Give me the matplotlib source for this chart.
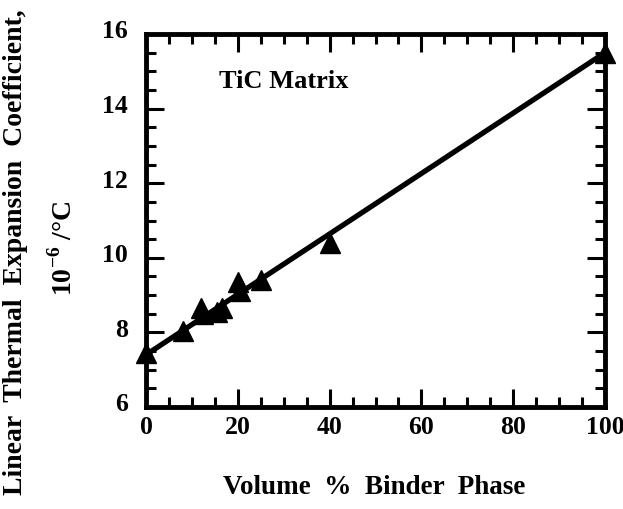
import numpy as np
import matplotlib.pyplot as plt
import matplotlib.transforms as mtransforms
from matplotlib.ticker import MultipleLocator

# data
binder_pct = [0, 8, 12, 12.5, 15.5, 16.5, 20, 20.5, 25, 40, 100]
cte = [7.45, 8.05, 8.65, 8.5, 8.55, 8.65, 9.35, 9.12, 9.4, 10.4, 15.5]
fit_x = [0, 100]
fit_y = [7.4, 15.5]

plt.rcParams['font.family'] = ['Liberation Serif', 'DejaVu Serif']
plt.rcParams['font.weight'] = 'bold'
plt.rcParams['mathtext.fontset'] = 'custom'
plt.rcParams['mathtext.rm'] = 'Liberation Serif:bold'

fig = plt.figure(figsize=(6.23, 5.10), dpi=100)
ax = fig.add_axes([146 / 623, 1 - 408 / 510, (605 - 146) / 623, (408 - 35) / 510])

ax.plot(fit_x, fit_y, color='black', lw=3.8, solid_capstyle='butt', zorder=2)
ax.plot(binder_pct, cte, ls='none', marker='^', ms=14, color='black', zorder=3,
        clip_on=False)

ax.set_xlim(0, 100)
ax.set_ylim(6, 16)
ax.xaxis.set_major_locator(MultipleLocator(20))
ax.xaxis.set_minor_locator(MultipleLocator(5))
ax.yaxis.set_major_locator(MultipleLocator(2))
ax.yaxis.set_minor_locator(MultipleLocator(0.5))
ax.tick_params(which='both', direction='in', top=True, right=True, width=2.2,
               labelsize=18.5)
ax.tick_params(axis='x', which='major', pad=6)
ax.tick_params(axis='y', which='major', pad=13)
ax.tick_params(which='major', length=13)
ax.tick_params(which='minor', length=7)
fig.canvas.draw()
shift = mtransforms.ScaledTranslation(0, 4 / 72, fig.dpi_scale_trans)
for lbl in ax.get_yticklabels():
    lbl.set_transform(lbl.get_transform() + shift)
xlbls = ax.get_xticklabels()
xlbls[-1].set_transform(xlbls[-1].get_transform() +
                        mtransforms.ScaledTranslation(-0.04, 0, fig.dpi_scale_trans))
for lbl in ax.get_xticklabels() + ax.get_yticklabels():
    lbl.set_fontweight('bold')
for s in ax.spines.values():
    s.set_linewidth(3.5)

ax.text(16, 14.75, 'TiC Matrix', fontsize=19, fontweight='bold', va='center')

fig.text(374 / 623, 1 - 487 / 510, 'Volume  %  Binder  Phase', ha='center',
         va='center', fontsize=19.5, fontweight='bold')
fig.text(16 / 623, 1 - 252 / 510, 'Linear  Thermal  Expansion  Coefficient,',
         rotation=90, ha='center', va='center', fontsize=20, fontweight='bold')
fig.text(63 / 623, 1 - 248 / 510, r'10$^{-6}$ /°C', rotation=90, ha='center',
         va='center', fontsize=20, fontweight='bold')

fig.savefig('out.png', dpi=100)
